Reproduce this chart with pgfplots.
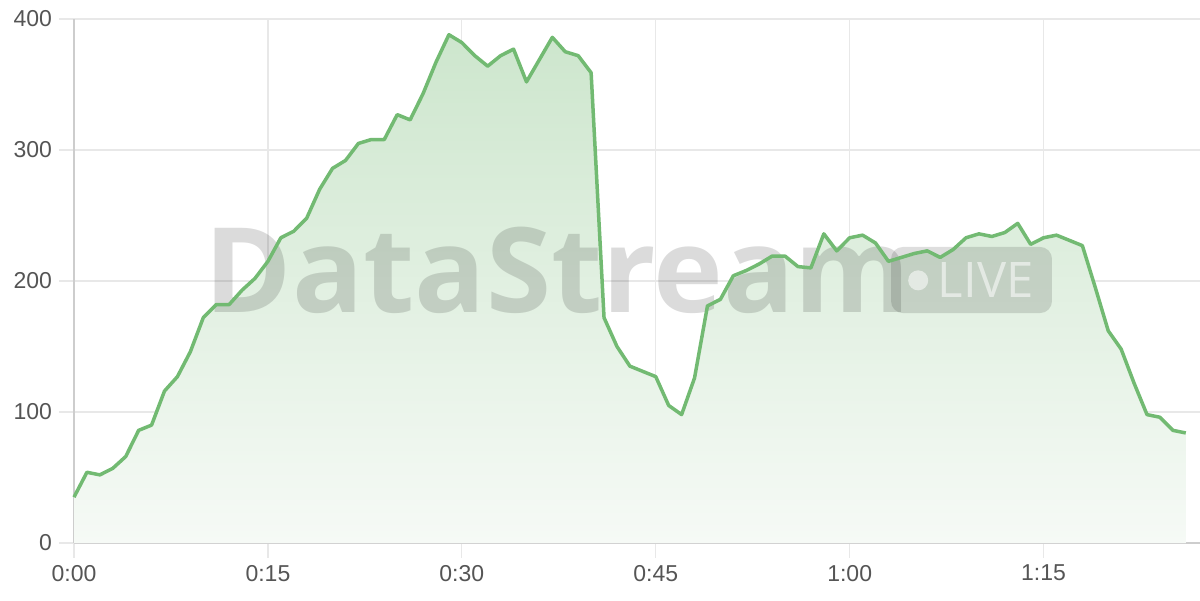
\documentclass[border=0pt]{standalone}
\usepackage{pgfplots}
\usepackage{pgfplotstable}
\pgfplotsset{compat=1.18}
\usepackage{fontspec}
\setmainfont{Liberation Sans}
\newfontfamily\wmfont{Open Sans}
\definecolor{linegreen}{RGB}{114,186,114}
\definecolor{filltop}{RGB}{205,230,205}
\definecolor{fillbot}{RGB}{246,250,246}
\definecolor{gridc}{RGB}{232,232,232}
\definecolor{axisc}{RGB}{205,205,205}
\definecolor{labelc}{RGB}{85,85,85}
\pgfplotstableread{
t v
0 35
1 54
2 52
3 57
4 66
5 86
6 90
7 116
8 127
9 146
10 172
11 182
12 182
13 193
14 202
15 215
16 233
17 238
18 248
19 270
20 286
21 292
22 305
23 308
24 308
25 327
26 323
27 343
28 367
29 388
30 382
31 372
32 364
33 372
34 377
35 352
36 369
37 386
38 375
39 372
40 359
41 172
42 150
43 135
44 131
45 127
46 105
47 98
48 126
49 181
50 186
51 204
52 208
53 213
54 219
55 219
56 211
57 210
58 236
59 223
60 233
61 235
62 229
63 215
64 218
65 221
66 223
67 218
68 224
69 233
70 236
71 234
72 237
73 244
74 228
75 233
76 235
77 231
78 227
79 195
80 162
81 148
82 122
83 98
84 96
85 86
86 84
}\datatable
\begin{document}
\begin{tikzpicture}
\begin{axis}[
  set layers=standard,
  scale only axis, width=563pt, height=262pt,
  xmin=0, xmax=87.1, ymin=0, ymax=400,
  xtick={0,15,30,45,60,75},
  xticklabels={0:00,0:15,0:30,0:45,1:00,1:15},
  ytick={0,100,200,300,400},
  grid=major, major grid style={gridc, line width=0.6pt},
  axis x line*=bottom, axis y line*=left,
  x axis line style={axisc, line width=1pt, -},
  y axis line style={axisc, line width=1pt, -},
  tick align=outside, major tick length=7.5pt,
  tick style={gridc, line width=0.6pt},
  ticklabel style={font=\fontsize{11.5}{13}\selectfont, text=labelc},
  /pgf/number format/assume math mode=true,
  clip=false,
]
\addplot[draw=none, top color=filltop, bottom color=fillbot] table[x=t,y=v] {\datatable} \closedcycle;
\node[anchor=base west, inner sep=0pt, text=black, opacity=0.14, font=\wmfont\bfseries\fontsize{59}{60}\selectfont] at (axis cs:10.1,176) {DataStream};
\fill[black, opacity=0.13, rounded corners=6pt] (axis cs:63.2,175.5) rectangle (axis cs:75.65,226);
\fill[white, opacity=0.55] (axis cs:65.3,200.5) circle (5pt);
\node[anchor=base west, inner sep=0pt, text=white, opacity=0.55, font=\wmfont\fontsize{24.5}{25}\selectfont] at (axis cs:66.8,187.5) {LIVE};
\addplot[linegreen, line width=1.75pt, line join=round, on layer=axis foreground] table[x=t,y=v] {\datatable};
\end{axis}
\pgfresetboundingbox
\path[use as bounding box] ([xshift=-37pt,yshift=-28.5pt]current axis.south west) rectangle ([yshift=9.5pt]current axis.north east);
\end{tikzpicture}
\end{document}
